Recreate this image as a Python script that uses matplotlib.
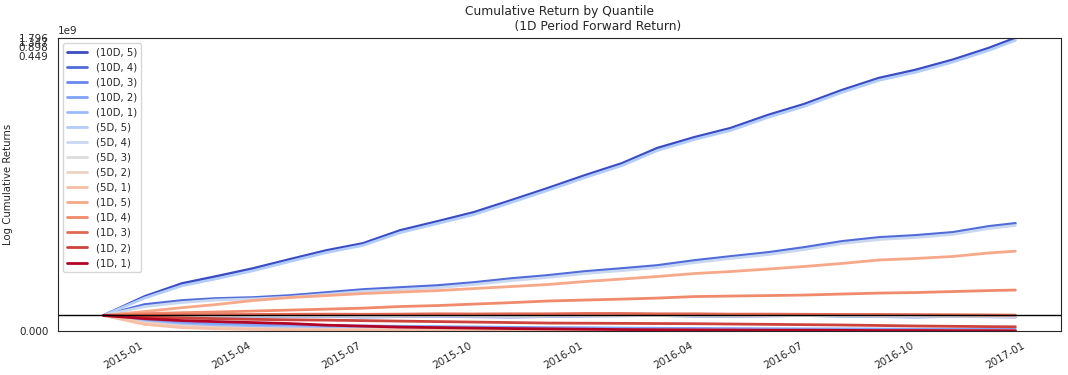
import matplotlib
matplotlib.use("Agg")
import matplotlib.pyplot as plt
import matplotlib.dates as mdates
from matplotlib.ticker import ScalarFormatter, NullLocator
import numpy as np
import pandas as pd
import seaborn as sns

sns.set_style("white")
plt.rcParams['font.family'] = ['DejaVu Sans']

dates = pd.to_datetime([
    "2014-11-28", "2015-01-01", "2015-02-01", "2015-03-01", "2015-04-01", "2015-05-01",
    "2015-06-01", "2015-07-01", "2015-08-01", "2015-09-01", "2015-10-01", "2015-11-01",
    "2015-12-01", "2016-01-01", "2016-02-01", "2016-03-01", "2016-04-01", "2016-05-01",
    "2016-06-01", "2016-07-01", "2016-08-01", "2016-09-01", "2016-10-01", "2016-11-01",
    "2016-12-01", "2016-12-23"])

labels = ["(10D, 5)", "(10D, 4)", "(10D, 3)", "(10D, 2)", "(10D, 1)",
          "(5D, 5)", "(5D, 4)", "(5D, 3)", "(5D, 2)", "(5D, 1)",
          "(1D, 5)", "(1D, 4)", "(1D, 3)", "(1D, 2)", "(1D, 1)"]

q10d_5 = [1.0, 2.47, 6.9, 12, 22.6, 46, 94, 163, 456, 930, 1900, 4900, 1.26e4, 3.5e4,
          9.1e4, 3.0e5, 7.1e5, 1.46e6, 4.1e6, 9.7e6, 2.9e7, 7.6e7, 1.43e8, 3.2e8, 8.1e8, 1.796e9]
q10d_4 = [1.0, 1.67, 1.92, 2.11, 2.28, 2.67, 3.39, 4.29, 5.03, 5.89, 7.47, 10.2, 13.0, 17.8,
          22.6, 28.6, 42.5, 58.4, 80, 119, 191, 262, 307, 390, 626, 794]
q10d_3 = [1.0, 0.97, 0.95, 0.93, 0.95, 0.92, 0.94, 0.9, 0.93, 0.95, 0.92, 0.9, 0.93, 0.96,
          0.98, 1.0, 0.95, 0.93, 0.97, 1.0, 0.95, 0.93, 0.9, 0.94, 0.92, 0.9]
q10d_2 = [1.0, 0.72, 0.55, 0.47, 0.42, 0.39, 0.37, 0.35, 0.33, 0.31, 0.29, 0.27, 0.25, 0.24,
          0.22, 0.21, 0.2, 0.19, 0.18, 0.17, 0.17, 0.16, 0.15, 0.15, 0.14, 0.14]
q10d_1 = [1.0, 0.6, 0.42, 0.33, 0.28, 0.24, 0.21, 0.19, 0.17, 0.16, 0.15, 0.14, 0.13, 0.12,
          0.11, 0.11, 0.1, 0.1, 0.09, 0.09, 0.08, 0.08, 0.08, 0.07, 0.07, 0.07]
q5d_5 = [1.0, 2.2, 5.8, 10, 19, 39, 80, 140, 385, 790, 1600, 4150, 1.07e4, 2.95e4,
         7.7e4, 2.5e5, 6.0e5, 1.23e6, 3.45e6, 8.2e6, 2.45e7, 6.4e7, 1.2e8, 2.7e8, 6.8e8, 1.5e9]
q5d_4 = [1.0, 1.55, 1.8, 1.95, 2.05, 2.35, 2.95, 3.7, 4.3, 5.0, 6.4, 8.7, 11.1, 15.2,
         19.2, 24.3, 36, 50, 68, 101, 162, 223, 261, 332, 532, 675]
q5d_3 = [1.0, 0.98, 0.97, 0.96, 0.97, 0.95, 0.96, 0.94, 0.95, 0.97, 0.95, 0.94, 0.95, 0.97,
         0.98, 0.99, 0.97, 0.95, 0.97, 0.99, 0.97, 0.95, 0.94, 0.95, 0.94, 0.93]
q5d_2 = [1.0, 0.55, 0.35, 0.25, 0.2, 0.17, 0.15, 0.14, 0.13, 0.12, 0.12, 0.11, 0.1, 0.1,
         0.09, 0.09, 0.09, 0.08, 0.08, 0.08, 0.08, 0.07, 0.07, 0.07, 0.07, 0.07]
q5d_1 = [1.0, 0.45, 0.25, 0.18, 0.14, 0.12, 0.1, 0.09, 0.08, 0.08, 0.07, 0.07, 0.06, 0.06,
         0.06, 0.05, 0.05, 0.05, 0.05, 0.05, 0.05, 0.045, 0.045, 0.04, 0.04, 0.04]
q1d_5 = [1.0, 1.24, 1.48, 1.67, 1.92, 2.28, 2.67, 3.13, 3.52, 3.96, 4.65, 5.44, 6.37, 8.08,
         9.85, 12.0, 15.2, 17.8, 21.7, 26.5, 33.6, 44.3, 49.8, 58.4, 77, 88.8]
q1d_4 = [1.0, 1.11, 1.17, 1.21, 1.27, 1.33, 1.39, 1.45, 1.55, 1.61, 1.70, 1.79, 1.89, 1.95,
         2.02, 2.19, 2.47, 2.57, 2.67, 2.78, 3.01, 3.25, 3.39, 3.66, 3.96, 4.13]
q1d_3 = [1.0, 1.02, 1.03, 1.05, 1.06, 1.07, 1.08, 1.07, 1.08, 1.1, 1.09, 1.1, 1.1, 1.12,
         1.12, 1.1, 1.1, 1.08, 1.08, 1.07, 1.06, 1.06, 1.05, 1.04, 1.03, 1.02]
q1d_2 = [1.0, 0.9, 0.84, 0.8, 0.76, 0.73, 0.71, 0.68, 0.65, 0.62, 0.59, 0.56, 0.53, 0.52,
         0.51, 0.5, 0.49, 0.47, 0.45, 0.43, 0.41, 0.38, 0.35, 0.33, 0.31, 0.3]
q1d_1 = [1.0, 0.8, 0.68, 0.62, 0.56, 0.5, 0.4, 0.34, 0.28, 0.25, 0.22, 0.19, 0.17, 0.15,
         0.13, 0.12, 0.11, 0.1, 0.09, 0.09, 0.08, 0.07, 0.07, 0.06, 0.06, 0.055]

series = [q10d_5, q10d_4, q10d_3, q10d_2, q10d_1,
          q5d_5, q5d_4, q5d_3, q5d_2, q5d_1,
          q1d_5, q1d_4, q1d_3, q1d_2, q1d_1]

cum_ret = pd.DataFrame({lab: vals for lab, vals in zip(labels, series)}, index=dates)

fig = plt.figure(figsize=(10.68, 3.75), dpi=100)
ax = fig.add_axes([58/1068, 1 - 331/375, (1061 - 58)/1068, (331 - 38)/375])

colors = plt.cm.coolwarm(np.linspace(0, 1, len(labels)))
for lab, c in zip(labels, colors):
    ax.plot(cum_ret.index, cum_ret[lab].values, lw=2, color=c, label=lab)

ymin = cum_ret.min().min()
ymax = cum_ret.max().max()
ax.set_yscale('symlog')
ax.set_yticks(np.linspace(ymin, ymax, 5))
ax.set_ylim(ymin, ymax)
ax.yaxis.set_major_formatter(ScalarFormatter())
ax.yaxis.set_minor_locator(NullLocator())
ax.axhline(1.0, linestyle='-', color='black', lw=1)

ax.set_ylabel('Log Cumulative Returns', fontsize=7.3)
ax.set_title('Cumulative Return by Quantile\n                    (1D Period Forward Return)',
             fontsize=8.8)

ax.xaxis.set_major_locator(mdates.MonthLocator(bymonth=[1, 4, 7, 10]))
ax.xaxis.set_major_formatter(mdates.DateFormatter('%Y-%m'))
for lbl in ax.get_xticklabels():
    lbl.set_rotation(30)
    lbl.set_ha('right')
ax.tick_params(labelsize=7.5)
ax.yaxis.get_offset_text().set_fontsize(7.5)

ax.legend(loc='upper left', fontsize=7.3, labelspacing=0.5)

fig.savefig('out.png', dpi=100)
